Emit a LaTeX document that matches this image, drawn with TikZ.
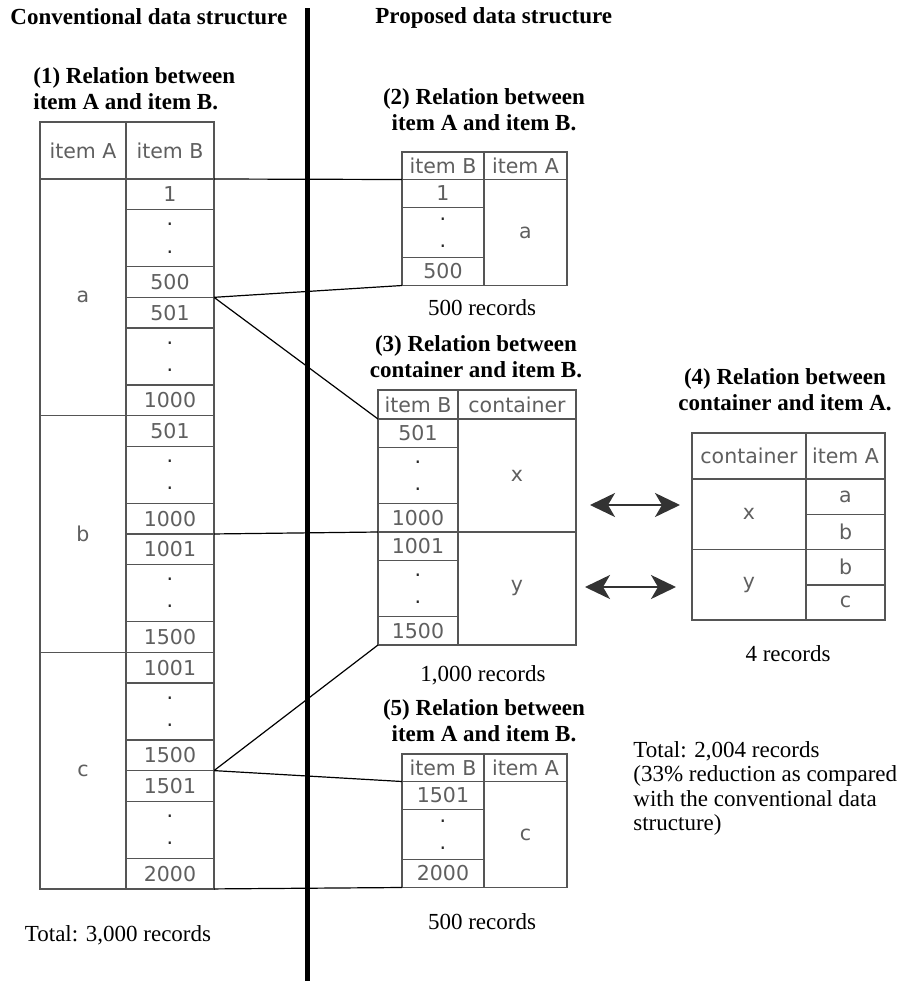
\documentclass[tikz,border=0pt]{standalone}
\usepackage{fontspec}
\setmainfont{Liberation Serif}
\newfontfamily\cellfont{DejaVu Sans}
\usepackage{xcolor}
\usepackage{tikz}
\usetikzlibrary{arrows.meta,positioning}
\definecolor{TableLine}{RGB}{85,85,85}
\definecolor{CellText}{RGB}{95,95,95}
\newcommand{\twodots}{\color{black!85}\vbox{\offinterlineskip\hbox{.}\kern12.3pt\hbox{.}}}

\begin{document}
\begin{tikzpicture}[x=0.5pt,y=-0.5pt,
  >={Stealth[length=12.5pt,width=12pt,inset=3.5pt]},
  tcell/.style={draw=TableLine,line width=0.75pt,inner sep=0pt,outer sep=0pt,
    font=\cellfont\fontsize{10.25}{12}\selectfont,text=CellText},
  heading/.style={font=\bfseries\fontsize{11.5}{13}\selectfont,inner sep=0pt,align=center},
  recnote/.style={font=\fontsize{11.5}{12.25}\selectfont,inner sep=0pt},
  conn/.style={line width=0.6pt}]
  \useasboundingbox (0,0) rectangle (900,981);
  \fill[white] (0,0) rectangle (900,981);

  % titles
  \node[heading,anchor=west] (convT) at (10,17) {Conventional data structure};
  \node[heading,anchor=west] (propT) at (375,18) {Proposed data structure};

  % (1) conventional table
  \node[heading,align=left,anchor=west] (cap1) at (33,89) {(1) Relation between\\item A and item B.};
  \node[tcell,minimum width=43pt,minimum height=28.5pt,anchor=north west] (t1hA) at (40,122) {item A};
  \node[tcell,minimum width=44pt,minimum height=28.5pt,anchor=north west] (t1b0) at (t1hA.north east) {item B};
  \node[tcell,minimum width=43pt,minimum height=118.33pt,anchor=north] (t1ga) at (t1hA.south) {a};
  \node[tcell,minimum width=43pt,minimum height=118.33pt,anchor=north] (t1gb) at (t1ga.south) {b};
  \node[tcell,minimum width=43pt,minimum height=118.33pt,anchor=north] (t1gc) at (t1gb.south) {c};
  \foreach \lab/\h [count=\i,remember=\i as \j (initially 0)] in
    {1/15.33pt,\twodots/28.5pt,500/15.33pt,501/15.33pt,\twodots/28.5pt,1000/15.33pt,
     501/15.33pt,\twodots/28.5pt,1000/15.33pt,1001/15.33pt,\twodots/28.5pt,1500/15.33pt,
     1001/15.33pt,\twodots/28.5pt,1500/15.33pt,1501/15.33pt,\twodots/28.5pt,2000/15.33pt}
    \node[tcell,minimum width=44pt,minimum height=\h,anchor=north] (t1b\i) at (t1b\j.south) {\lab};
  \node[recnote] (tot1) at (118,935) {Total: 3,000 records};

  % (2) item B -> item A
  \node[heading] (cap2) at (484,110) {(2) Relation between\\item A and item B.};
  \node[tcell,minimum width=41pt,minimum height=13.75pt,anchor=north west] (t2b0) at (402,152) {item B};
  \node[tcell,minimum width=41.5pt,minimum height=13.75pt,anchor=north west] (t2hA) at (t2b0.north east) {item A};
  \foreach \lab/\h [count=\i,remember=\i as \j (initially 0)] in {1/14pt,\twodots/25pt,500/14pt}
    \node[tcell,minimum width=41pt,minimum height=\h,anchor=north] (t2b\i) at (t2b\j.south) {\lab};
  \node[tcell,minimum width=41.5pt,minimum height=53pt,anchor=north west] (t2ga) at (t2b0.south east) {a};
  \node[recnote] (rec2) at (482,308) {500 records};

  % (3) item B -> container
  \node[heading] (cap3) at (476,357) {(3) Relation between\\container and item B.};
  \node[tcell,minimum width=40pt,minimum height=14.5pt,anchor=north west] (t3b0) at (378,390) {item B};
  \node[tcell,minimum width=59pt,minimum height=14.5pt,anchor=north west] (t3hC) at (t3b0.north east) {container};
  \foreach \lab/\h [count=\i,remember=\i as \j (initially 0)] in
    {501/14.25pt,\twodots/28pt,1000/14.25pt,1001/14.25pt,\twodots/28pt,1500/14.25pt}
    \node[tcell,minimum width=40pt,minimum height=\h,anchor=north] (t3b\i) at (t3b\j.south) {\lab};
  \node[tcell,minimum width=59pt,minimum height=56.5pt,anchor=north west] (t3gx) at (t3b0.south east) {x};
  \node[tcell,minimum width=59pt,minimum height=56.5pt,anchor=north] (t3gy) at (t3gx.south) {y};
  \node[recnote] (rec3) at (483,675) {1,000 records};

  % (4) container -> item A
  \node[heading] (cap4) at (785,390) {(4) Relation between\\container and item A.};
  \node[tcell,minimum width=57pt,minimum height=23pt,anchor=north west] (t4hC) at (692,433) {container};
  \node[tcell,minimum width=39.5pt,minimum height=23pt,anchor=north west] (t4a0) at (t4hC.north east) {item A};
  \node[tcell,minimum width=57pt,minimum height=35.25pt,anchor=north] (t4gx) at (t4hC.south) {x};
  \node[tcell,minimum width=57pt,minimum height=35.25pt,anchor=north] (t4gy) at (t4gx.south) {y};
  \foreach \lab [count=\i,remember=\i as \j (initially 0)] in {a,b,b,c}
    \node[tcell,minimum width=39.5pt,minimum height=17.625pt,anchor=north] (t4a\i) at (t4a\j.south) {\lab};
  \node[recnote] (rec4) at (788,654) {4 records};

  % (5) item B -> item A
  \node[heading] (cap5) at (484,721) {(5) Relation between\\item A and item B.};
  \node[tcell,minimum width=41pt,minimum height=13.75pt,anchor=north west] (t5b0) at (402,754) {item B};
  \node[tcell,minimum width=41.5pt,minimum height=13.75pt,anchor=north west] (t5hA) at (t5b0.north east) {item A};
  \foreach \lab/\h [count=\i,remember=\i as \j (initially 0)] in {1501/14pt,\twodots/25pt,2000/14pt}
    \node[tcell,minimum width=41pt,minimum height=\h,anchor=north] (t5b\i) at (t5b\j.south) {\lab};
  \node[tcell,minimum width=41.5pt,minimum height=53pt,anchor=north west] (t5gc) at (t5b0.south east) {c};
  \node[recnote] (rec5) at (482,922) {500 records};

  \node[recnote,align=left,anchor=north west] (tot2) at (633,741)
    {Total: 2,004 records\\(33\% reduction as compared\\with the conventional data\\structure)};

  % links old -> new
  \draw[conn] (t1b0.south east) -- (t2b0.south west);
  \draw[conn] (t1b3.south east) -- (t2b3.south west);
  \draw[conn] (t1b3.south east) -- (t3b0.south west);
  \draw[conn] (t1b9.south east) -- (t3b3.south west);
  \draw[conn] (t1b15.south east) -- (t3b6.south west);
  \draw[conn] (t1b15.south east) -- (t5b0.south west);
  \draw[conn] (t1b18.south east) -- (t5b3.south west);

  % double arrows (3) <-> (4)
  \coordinate (xarrL) at (590,505);
  \coordinate (xarrR) at (680,505);
  \coordinate (yarrL) at (585,587);
  \coordinate (yarrR) at (676,587);
  \draw[<->,line width=1pt,black!80] (xarrL) -- (xarrR);
  \draw[<->,line width=1pt,black!80] (yarrL) -- (yarrR);

  % divider
  \coordinate (divTop) at (307,8);
  \coordinate (divBot) at (307,981);
  \draw[line width=2.5pt] (divTop) -- (divBot);
\end{tikzpicture}
\end{document}
